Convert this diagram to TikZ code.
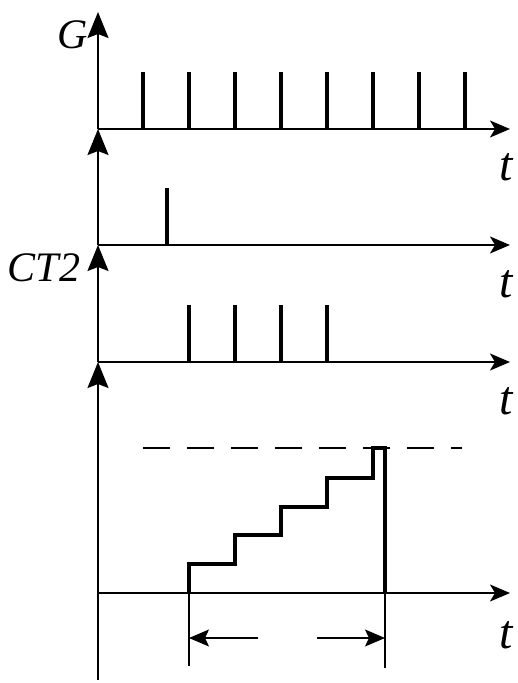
\documentclass[tikz,border=0pt]{standalone}
\usepackage{fontspec}
\setmainfont{Liberation Serif}
\usetikzlibrary{arrows.meta,positioning}
\tikzset{
  vaxis/.style={-{Stealth[length=26pt,width=21pt,inset=4pt]},line width=1.8pt},
  haxis/.style={-{Stealth[length=20pt,width=17pt,inset=5pt]},line width=1.8pt},
  pulse/.style={line width=3.2pt},
  stair/.style={line width=3.4pt},
  refline/.style={line width=2.2pt,dash pattern=on 27pt off 17pt},
  dimline/.style={line width=1.2pt},
  dimarr/.style={-{Stealth[length=20pt,width=17pt,inset=4pt]},line width=1.4pt},
  lbl/.style={font=\fontsize{42}{46}\selectfont\itshape,inner sep=0pt},
  tlbl/.style={font=\fontsize{48}{52}\selectfont\itshape,inner sep=0pt}
}
\begin{document}
\begin{tikzpicture}[x=1pt,y=-1pt]
  \useasboundingbox (0,0) rectangle (518,683);
  % axis origins
  \coordinate (top) at (98,12);
  \coordinate (o1) at (98,129);
  \coordinate (o2) at (98,245);
  \coordinate (o3) at (98,362);
  \coordinate (o4) at (98,593);
  \coordinate (bot) at (98,680);
  \coordinate (e1) at (510,129);
  \coordinate (e2) at (510,245);
  \coordinate (e3) at (510,362);
  \coordinate (e4) at (510,593);

  % vertical axes
  \draw[vaxis] (o1) -- (top);
  \draw[vaxis] (o2) -- (o1);
  \draw[vaxis] (o3) -- (o2);
  \draw[vaxis] (bot) -- (o3);

  % time axes
  \foreach \i in {1,...,4}
    \draw[haxis] (o\i) -- (e\i);

  % labels
  \node[lbl] (lblG) at (73,35) {G};
  \node[lbl] (lblCT) at (44,268) {CT2};
  \node[tlbl] (t1) at (506,167) {t};
  \node[tlbl] (t2) at (506,284) {t};
  \node[tlbl] (t3) at (506,401) {t};
  \node[tlbl] (t4) at (506,635) {t};

  % clock pulses
  \foreach \x in {143,189,235,281,327,373,419,465}
    \draw[pulse] (\x,129) -- (\x,72);
  % start pulse
  \draw[pulse] (167,245) -- (167,188);
  % counted pulses
  \foreach \x in {189,235,281,327}
    \draw[pulse] (\x,362) -- (\x,305);

  % staircase
  \coordinate (s0) at (189,593);
  \coordinate (s5) at (385,593);
  \draw[refline] (143,448) -- (462,448);
  \draw[stair] (s0) |- (235,564) |- (281,535) |- (327,507)
    |- (373,478) |- (385,448) -- (s5);

  % duration
  \coordinate (d0) at (189,666);
  \coordinate (d1) at (385,668);
  \coordinate (a0) at (189,638);
  \coordinate (a1) at (385,638);
  \coordinate (m0) at (258,638);
  \coordinate (m1) at (317,638);
  \draw[dimline] (s0) -- (d0);
  \draw[dimline] (s5) -- (d1);
  \draw[dimarr] (m0) -- (a0);
  \draw[dimarr] (m1) -- (a1);
\end{tikzpicture}
\end{document}
